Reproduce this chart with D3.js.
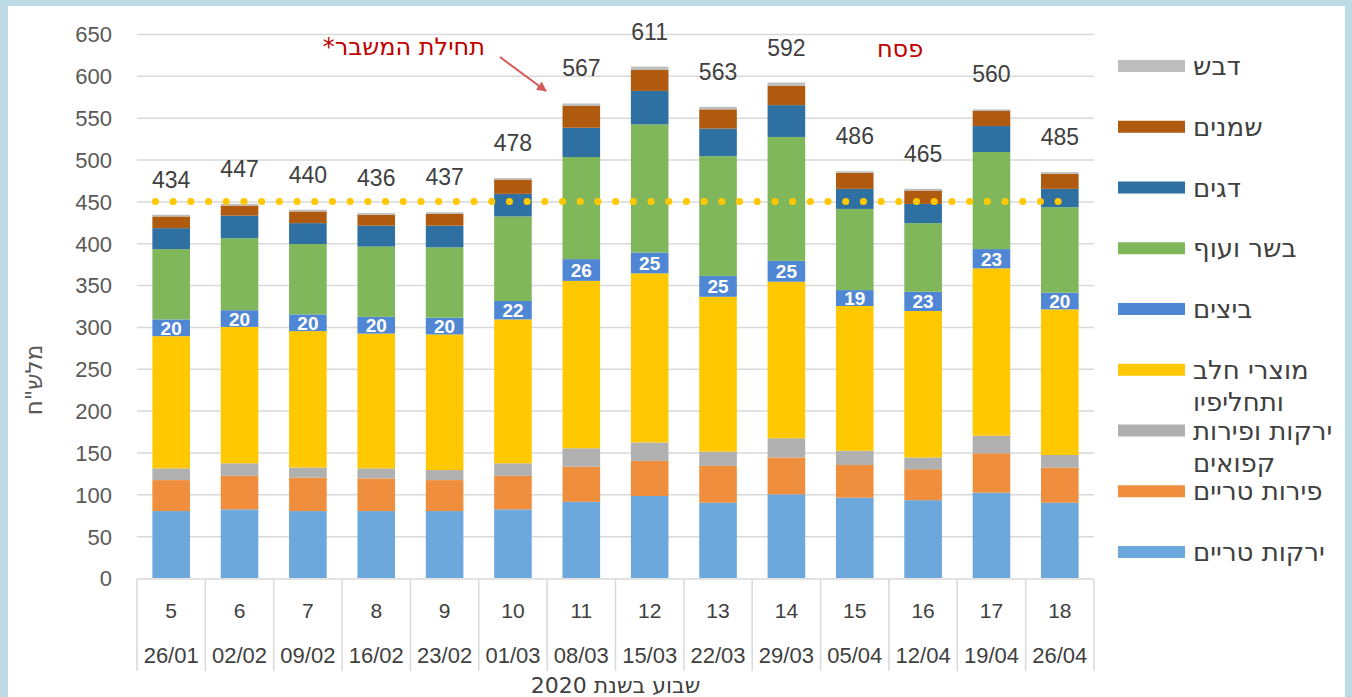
<!DOCTYPE html>
<html>
<head>
<meta charset="utf-8">
<script src="https://cdn.jsdelivr.net/npm/d3@7"></script>
<style>
  body { margin: 0; background: #bcdbe4; }
  svg { display: block; }
  text { font-family: "Liberation Sans", "DejaVu Sans", sans-serif; }
  .heb { font-family: "DejaVu Sans", sans-serif; }
</style>
</head>
<body>
<div id="chart-container"></div>
<script>
// weeks of 2020 and the Sunday each starts on
const weeks = ["5", "6", "7", "8", "9", "10", "11", "12", "13", "14", "15", "16", "17", "18"];
const dates = ["26/01", "02/02", "09/02", "16/02", "23/02", "01/03", "08/03", "15/03", "22/03", "29/03", "05/04", "12/04", "19/04", "26/04"];
const totals = [434, 447, 440, 436, 437, 478, 567, 611, 563, 592, 486, 465, 560, 485];

// series, bottom to top (million NIS)
const vegFresh   = [80, 82, 80, 80, 80, 82, 91, 98, 90, 100, 96, 93, 102, 90];
const fruitFresh = [37, 40, 40, 39, 37, 40, 42, 42, 44, 44, 39, 37, 47, 42];
const frozen     = [14, 15, 12, 12, 12, 15, 22, 22, 17, 23, 17, 14, 21, 15];
const dairy      = [158, 163, 163, 161, 162, 172, 200, 202, 185, 187, 173, 175, 200, 174];
const eggs       = [20, 20, 20, 20, 20, 22, 26, 25, 25, 25, 19, 23, 23, 20];
const meat       = [84, 86, 84, 84, 84, 101, 122, 153, 143, 148, 97, 82, 116, 102];
const fish       = [25, 27, 25, 25, 26, 27, 35, 40, 33, 38, 24, 23, 31, 22];
const oils       = [14, 12, 14, 13, 14, 17, 26, 25, 23, 23, 19, 16, 18, 18];
const honey      = [2, 2, 2, 2, 2, 2, 3, 4, 3, 4, 2, 2, 2, 2];

const keys = ["vegFresh", "fruitFresh", "frozen", "dairy", "eggs", "meat", "fish", "oils", "honey"];
const labels = {
  vegFresh: ["ירקות טריים"],
  fruitFresh: ["פירות טריים"],
  frozen: ["ירקות ופירות", "קפואים"],
  dairy: ["מוצרי חלב", "ותחליפיו"],
  eggs: ["ביצים"],
  meat: ["בשר ועוף"],
  fish: ["דגים"],
  oils: ["שמנים"],
  honey: ["דבש"]
};
const colors = {
  vegFresh: "#6ca8dc", fruitFresh: "#ef8f3d", frozen: "#b0b0b0", dairy: "#ffc800",
  eggs: "#5087d4", meat: "#80b75a", fish: "#2e70a2", oils: "#b05a10", honey: "#bdbdbd"
};
const avgLine = 450;

const seriesData = { vegFresh, fruitFresh, frozen, dairy, eggs, meat, fish, oils, honey };
let rows = weeks.map((w, i) => {
  let r = { week: w };
  keys.forEach(k => { r[k] = seriesData[k][i]; });
  return r;
});

let W = 1352, H = 697,
    svg = d3.select("#chart-container").append("svg").attr("width", W).attr("height", H),
    pLeft = 137, pRight = 1094, pTop = 34, pBottom = 578;

svg.append("rect").attr("x", 8).attr("y", 6).attr("width", 1337).attr("height", 691).attr("fill", "#fff");

let x = d3.scaleBand().domain(weeks).range([pLeft, pRight]).paddingInner(0.45).paddingOuter(0.225),
    y = d3.scaleLinear().domain([0, 650]).range([pBottom, pTop]);

// gridlines
svg.append("g")
    .attr("transform", `translate(${pLeft},0)`)
    .call(d3.axisLeft(y).tickValues(d3.range(50, 651, 50)).tickSize(-(pRight - pLeft)).tickFormat(""))
    .call(g => g.select(".domain").remove())
    .call(g => g.selectAll("line").attr("stroke", "#d9d9d9").attr("stroke-width", 1.5));

// y tick labels
svg.append("g")
    .attr("transform", `translate(${pLeft},0)`)
    .call(d3.axisLeft(y).tickValues(d3.range(0, 651, 50)).tickSize(0).tickPadding(25))
    .call(g => g.select(".domain").remove())
    .call(g => g.selectAll("text").attr("fill", "#595959").attr("font-size", 22)
        .attr("font-family", "Liberation Sans").attr("dy", "0.36em"));

svg.append("text")
    .attr("class", "heb")
    .attr("transform", "translate(42,380) rotate(-90)")
    .attr("text-anchor", "middle")
    .attr("direction", "rtl")
    .attr("fill", "#595959")
    .attr("font-size", 23)
    .text('מלש"ח');

// stacked bars
let stacked = d3.stack().keys(keys)(rows);
svg.append("g").selectAll("g")
    .data(stacked)
    .join("g")
    .attr("fill", d => colors[d.key])
    .selectAll("rect")
    .data(d => d)
    .join("rect")
    .attr("x", d => x(d.data.week))
    .attr("y", d => y(d[1]))
    .attr("width", x.bandwidth())
    .attr("height", d => y(d[0]) - y(d[1]));

// egg values inside bars
let eggLayer = stacked.find(s => s.key === "eggs");
svg.append("g").selectAll("text")
    .data(eggLayer)
    .join("text")
    .attr("x", d => x(d.data.week) + x.bandwidth() / 2)
    .attr("y", d => (y(d[0]) + y(d[1])) / 2 + 7)
    .attr("text-anchor", "middle")
    .attr("fill", "#fff")
    .attr("font-size", 19)
    .attr("font-weight", "bold")
    .text(d => d.data.eggs);

// totals
svg.append("g").selectAll("text")
    .data(totals)
    .join("text")
    .attr("x", (d, i) => x(weeks[i]) + x.bandwidth() / 2)
    .attr("y", d => y(d) - 27)
    .attr("text-anchor", "middle")
    .attr("fill", "#404040")
    .attr("font-size", 23)
    .text(d => d);

// dotted reference line
svg.append("line")
    .attr("x1", x(weeks[0]) + 3).attr("x2", x(weeks[13]) + x.bandwidth() / 2)
    .attr("y1", y(avgLine)).attr("y2", y(avgLine))
    .attr("stroke", "#ffc800")
    .attr("stroke-width", 7)
    .attr("stroke-linecap", "round")
    .attr("stroke-dasharray", "0.1,17.6");

// x axis: two-level table
let step = x.step();
let xg = svg.append("g");
xg.selectAll("line")
    .data(d3.range(weeks.length + 1))
    .join("line")
    .attr("x1", i => pLeft + i * step).attr("x2", i => pLeft + i * step)
    .attr("y1", pBottom + 1).attr("y2", 671)
    .attr("stroke", "#d9d9d9").attr("stroke-width", 1.5);
xg.append("line").attr("x1", pLeft).attr("x2", pRight).attr("y1", pBottom + 1).attr("y2", pBottom + 1)
    .attr("stroke", "#d9d9d9").attr("stroke-width", 1.5);
xg.selectAll(".wk")
    .data(weeks)
    .join("text")
    .attr("class", "wk")
    .attr("x", d => x(d) + x.bandwidth() / 2)
    .attr("y", 618)
    .attr("text-anchor", "middle")
    .attr("fill", "#404040")
    .attr("font-size", 21)
    .text(d => d);
xg.selectAll(".dt")
    .data(dates)
    .join("text")
    .attr("class", "dt")
    .attr("x", (d, i) => x(weeks[i]) + x.bandwidth() / 2)
    .attr("y", 663)
    .attr("text-anchor", "middle")
    .attr("fill", "#404040")
    .attr("font-size", 22)
    .text(d => d);
svg.append("text")
    .attr("class", "heb")
    .attr("x", (pLeft + pRight) / 2)
    .attr("y", 693)
    .attr("text-anchor", "middle")
    .attr("direction", "rtl")
    .attr("fill", "#404040")
    .attr("font-size", 22)
    .text("שבוע בשנת 2020");

// annotations
svg.append("defs").append("marker")
    .attr("id", "arr").attr("viewBox", "0 0 10 10").attr("refX", 9).attr("refY", 5)
    .attr("markerWidth", 5).attr("markerHeight", 5).attr("orient", "auto")
    .append("path").attr("d", "M0,0L10,5L0,10z").attr("fill", "#d55a5a");
svg.append("line")
    .attr("x1", 500).attr("y1", 57).attr("x2", 546).attr("y2", 91)
    .attr("stroke", "#d55a5a").attr("stroke-width", 2)
    .attr("marker-end", "url(#arr)");
svg.append("text")
    .attr("class", "heb")
    .attr("x", 485).attr("y", 55)
    .attr("direction", "rtl").attr("text-anchor", "start")
    .attr("fill", "#c00000").attr("font-size", 24)
    .text("תחילת המשבר*");
svg.append("text")
    .attr("class", "heb")
    .attr("x", 900).attr("y", 57)
    .attr("direction", "rtl").attr("text-anchor", "middle")
    .attr("fill", "#c00000").attr("font-size", 24)
    .text("פסח");

// legend, top to bottom
let legendKeys = keys.slice().reverse();
let lg = svg.append("g").selectAll("g")
    .data(legendKeys)
    .join("g")
    .attr("transform", (d, i) => `translate(1118,${66 + i * 60.75})`);
lg.append("rect")
    .attr("x", 0).attr("y", -6).attr("width", 67).attr("height", 12)
    .attr("fill", d => colors[d]);
lg.each(function (k) {
    let t = d3.select(this).append("text")
        .attr("class", "heb")
        .attr("x", 75).attr("y", 9)
        .attr("direction", "rtl").attr("text-anchor", "end")
        .attr("fill", "#404040").attr("font-size", 26);
    labels[k].forEach((s, j) => {
        t.append("tspan").attr("x", 75).attr("dy", j === 0 ? 0 : 32).text(s);
    });
});
</script>
</body>
</html>
